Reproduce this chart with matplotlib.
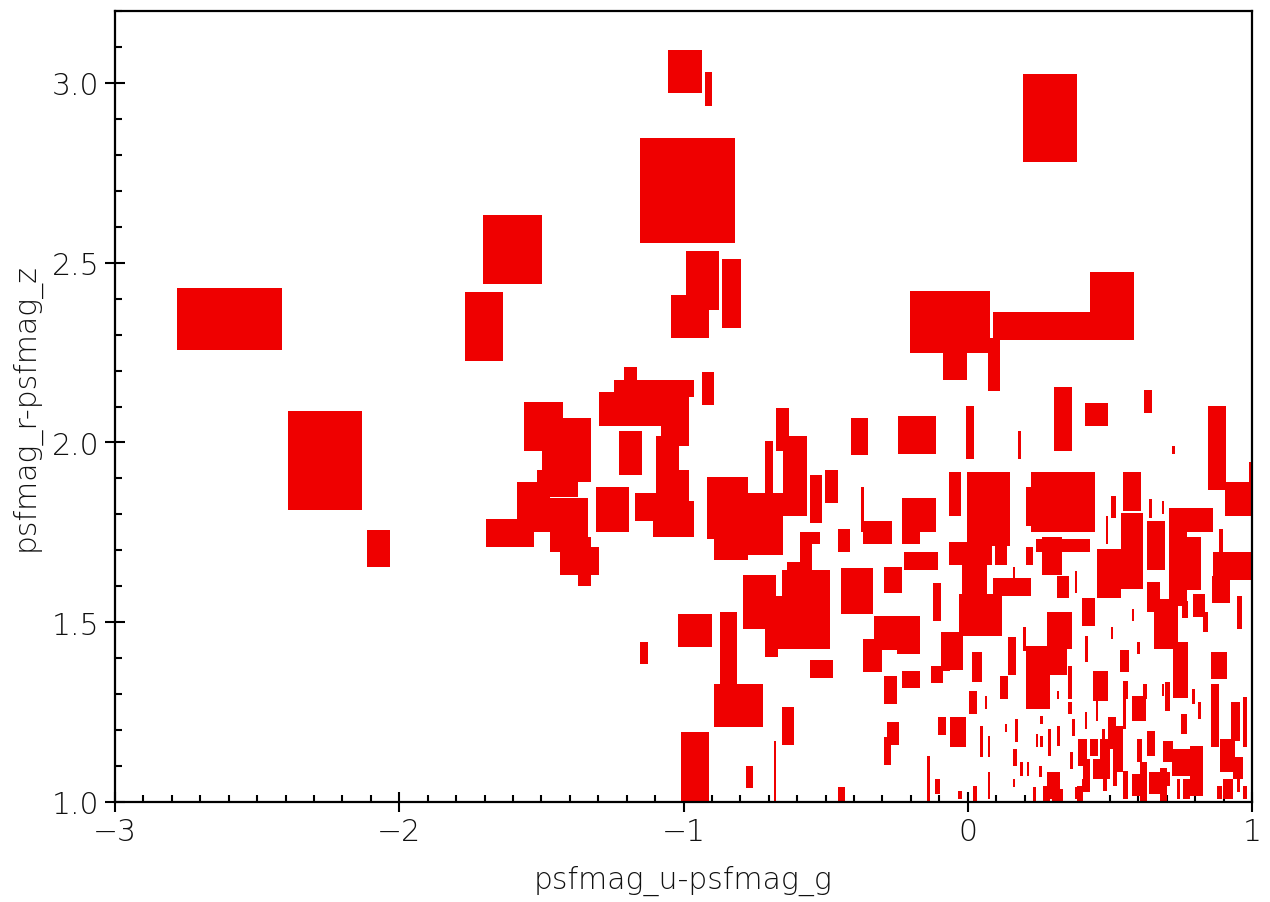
"""
Colour-colour plot with error boxes (psfmag u-g vs r-z)
"""

import numpy as np
import matplotlib.pyplot as plt
from matplotlib.ticker import MultipleLocator, FormatStrFormatter


#%%
# data: centre (x, y) and half-size of the error box (x_err, y_err)

# isolated points, upper half
x_top = [-2.597, -2.261, -2.073, -1.702, -1.602, -0.995, -0.912, -0.986, -0.933,
         -0.831, -0.977, 0.289, -0.062, -0.045, 0.263, 0.507, 0.092]
y_top = [2.344, 1.950, 1.705, 2.323, 2.537, 3.032, 2.983, 2.701, 2.451,
         2.414, 2.350, 2.903, 2.335, 2.298, 2.324, 2.380, 2.217]
xe_top = [0.185, 0.130, 0.040, 0.067, 0.104, 0.060, 0.012, 0.167, 0.058,
          0.033, 0.067, 0.095, 0.141, 0.042, 0.174, 0.077, 0.021]
ye_top = [0.086, 0.138, 0.051, 0.096, 0.096, 0.060, 0.047, 0.146, 0.082,
          0.096, 0.060, 0.122, 0.086, 0.124, 0.039, 0.095, 0.074]

# middle cluster
x_mid = [-1.186, -1.104, -1.172, -1.030, -0.914, -1.493, -1.412, -1.186, -1.056,
         -1.443, -1.528, -1.403, -1.610, -1.366, -1.348, -1.250, -1.113, -1.035,
         -1.014, -0.845, -0.833, -0.720, -0.699, -0.652, -0.608, -0.534, -0.479,
         -0.555, -0.435, -0.569, -0.733, -0.569, -0.680, -0.608]
y_mid = [2.150, 2.150, 2.093, 2.065, 2.150, 2.045, 1.979, 1.971, 1.926,
         1.886, 1.821, 1.771, 1.748, 1.670, 1.669, 1.814, 1.821, 1.787,
         1.830, 1.818, 1.741, 1.773, 1.900, 2.036, 1.907, 1.843, 1.878,
         1.734, 1.727, 1.648, 1.556, 1.535, 1.499, 1.630]
xe_mid = [0.023, 0.141, 0.125, 0.049, 0.021, 0.069, 0.086, 0.040, 0.040,
          0.072, 0.058, 0.067, 0.084, 0.069, 0.023, 0.058, 0.058, 0.072,
          0.033, 0.072, 0.060, 0.070, 0.014, 0.023, 0.042, 0.021, 0.023,
          0.035, 0.021, 0.021, 0.058, 0.084, 0.030, 0.028]
ye_mid = [0.060, 0.024, 0.047, 0.075, 0.046, 0.068, 0.089, 0.061, 0.092,
          0.038, 0.070, 0.075, 0.039, 0.039, 0.068, 0.063, 0.039, 0.050,
          0.093, 0.086, 0.068, 0.086, 0.104, 0.060, 0.111, 0.067, 0.046,
          0.017, 0.032, 0.075, 0.075, 0.110, 0.074, 0.038]

# lower middle
x_low = [-0.960, -0.842, -0.807, -0.960, -0.768, -0.678, -0.632, -0.515, -0.444,
         -0.690, -0.335, -0.288, -0.208, -0.200, -0.272, -0.263, -0.282, -0.108,
         -0.091, -0.077, -0.138, -0.106, -1.139]
y_low = [1.477, 1.428, 1.268, 1.097, 1.070, 1.085, 1.211, 1.370, 1.021,
         1.456, 1.408, 1.455, 1.465, 1.341, 1.312, 1.191, 1.142, 1.355,
         1.211, 1.419, 1.064, 1.043, 1.414]
xe_low = [0.060, 0.030, 0.086, 0.049, 0.012, 0.004, 0.021, 0.040, 0.012,
          0.023, 0.033, 0.042, 0.040, 0.032, 0.023, 0.021, 0.012, 0.021,
          0.014, 0.014, 0.005, 0.009, 0.014]
ye_low = [0.046, 0.100, 0.060, 0.097, 0.031, 0.085, 0.053, 0.025, 0.021,
          0.053, 0.046, 0.032, 0.053, 0.024, 0.039, 0.032, 0.039, 0.024,
          0.025, 0.054, 0.064, 0.021, 0.031]

# right side, y 1.45 - 2.1
x_right = [-0.381, -0.178, 0.008, 0.182, 0.335, 0.453, 0.634, 0.724, 0.877,
           0.954, 0.997, -0.369, -0.317, -0.171, -0.200, -0.045, 0.073, 0.010,
           0.117, 0.231, 0.335, 0.335, 0.296, 0.217, 0.335, 0.381, 0.163,
           0.156, 0.024, 0.045, -0.055, -0.164, -0.263, -0.108, -0.390, -0.249,
           0.335, 0.425, 0.497, 0.578, 0.578, 0.513, 0.490, 0.662, 0.785,
           0.740, 0.794, 0.933, 0.891, 0.891, 0.764, 0.814, 0.956, 0.507,
           0.643, 0.687]
y_right = [2.017, 2.021, 2.028, 1.993, 2.065, 2.078, 2.114, 1.979, 1.985,
           1.843, 1.894, 1.814, 1.750, 1.798, 1.775, 1.857, 1.815, 1.691,
           1.686, 1.822, 1.834, 1.713, 1.684, 1.684, 1.598, 1.612, 1.626,
           1.598, 1.602, 1.520, 1.420, 1.670, 1.618, 1.556, 1.587, 1.471,
           1.477, 1.529, 1.636, 1.698, 1.864, 1.821, 1.757, 1.713, 1.784,
           1.682, 1.663, 1.656, 1.591, 1.704, 1.535, 1.547, 1.527, 1.470,
           1.816, 1.819]
xe_right = [0.030, 0.067, 0.014, 0.005, 0.032, 0.040, 0.014, 0.005, 0.032,
            0.049, 0.007, 0.005, 0.051, 0.060, 0.032, 0.021, 0.076, 0.076,
            0.021, 0.026, 0.113, 0.095, 0.035, 0.012, 0.021, 0.004, 0.004,
            0.067, 0.044, 0.076, 0.039, 0.060, 0.032, 0.014, 0.056, 0.081,
            0.032, 0.023, 0.042, 0.039, 0.032, 0.009, 0.004, 0.032, 0.077,
            0.032, 0.026, 0.070, 0.032, 0.007, 0.011, 0.021, 0.009, 0.004,
            0.004, 0.004]
ye_right = [0.051, 0.053, 0.074, 0.039, 0.089, 0.032, 0.032, 0.011, 0.117,
            0.047, 0.051, 0.063, 0.032, 0.047, 0.057, 0.061, 0.103, 0.032,
            0.026, 0.054, 0.083, 0.018, 0.053, 0.025, 0.031, 0.031, 0.028,
            0.025, 0.057, 0.058, 0.053, 0.025, 0.036, 0.053, 0.064, 0.046,
            0.051, 0.039, 0.068, 0.106, 0.054, 0.031, 0.039, 0.068, 0.033,
            0.136, 0.074, 0.039, 0.038, 0.056, 0.024, 0.032, 0.046, 0.017,
            0.026, 0.018]

# dense corner, bottom right
x_dense = [-0.040, 0.033, 0.156, 0.128, 0.200, 0.247, 0.314, 0.360, 0.418,
           0.467, 0.455, 0.551, 0.581, 0.601, 0.602, 0.624, 0.697, 0.653,
           0.748, 0.836, 0.884, 0.870, 0.975, 0.942, 0.761, 0.704, 0.750,
           0.507, 0.478, 0.444, 0.471, 0.555, 0.604, 0.645, 0.662, 0.805,
           0.914, 0.951, 0.916, 0.404, 0.407, 0.387, 0.302, 0.288, 0.319,
           0.244, 0.259, 0.372, 0.416, 0.172, 0.048, 0.075, -0.034, 0.166,
           0.189, 0.212, 0.163, 0.075, 0.027, -0.027, 0.235, 0.277, 0.316,
           0.395, 0.418, 0.483, 0.518, 0.604, 0.699, 0.741, 0.770, 0.886,
           0.953, 0.975, 0.555, 0.687, 0.794, 0.815, 0.018,
           0.551, 0.703, 0.483, 0.529, 0.618, 0.689, 0.318, 0.064, 0.135,
           0.259, 0.256, 0.360, 0.365]
y_dense = [1.420, 1.376, 1.406, 1.318, 1.453, 1.346, 1.441, 1.332, 1.426,
           1.323, 1.256, 1.392, 1.520, 1.428, 1.260, 1.307, 1.495, 1.570,
           1.367, 1.501, 1.380, 1.241, 1.223, 1.224, 1.217, 1.140, 1.110,
           1.192, 1.175, 1.152, 1.092, 1.047, 1.047, 1.163, 1.053, 1.086,
           1.129, 1.095, 1.036, 1.138, 1.046, 1.025, 1.046, 1.166, 1.184,
           1.171, 1.168, 1.207, 1.227, 1.199, 1.168, 1.154, 1.195, 1.124,
           1.092, 1.092, 1.053, 1.046, 1.022, 1.019, 1.022, 1.024, 1.019,
           1.024, 1.074, 1.065, 1.082, 1.143, 1.064, 1.036, 1.036, 1.026,
           1.056, 1.026, 1.312, 1.312, 1.293, 1.255, 1.277,
           1.255, 1.293, 1.134, 1.147, 1.057, 1.047, 1.298, 1.277, 1.206,
           1.227, 1.085, 1.261, 1.115]
xe_dense = [0.023, 0.018, 0.014, 0.014, 0.005, 0.042, 0.035, 0.007, 0.005,
            0.026, 0.004, 0.016, 0.004, 0.005, 0.025, 0.007, 0.042, 0.023,
            0.026, 0.009, 0.028, 0.014, 0.007, 0.016, 0.011, 0.018, 0.032,
            0.014, 0.005, 0.014, 0.030, 0.009, 0.026, 0.014, 0.025, 0.023,
            0.026, 0.018, 0.018, 0.016, 0.005, 0.009, 0.023, 0.005, 0.005,
            0.004, 0.004, 0.005, 0.004, 0.005, 0.005, 0.004, 0.028, 0.007,
            0.005, 0.004, 0.004, 0.004, 0.007, 0.007, 0.005, 0.012, 0.019,
            0.011, 0.012, 0.007, 0.007, 0.009, 0.012, 0.005, 0.012, 0.009,
            0.005, 0.007, 0.009, 0.004, 0.005, 0.005, 0.014,
            0.005, 0.009, 0.018, 0.018, 0.012, 0.012, 0.004, 0.004, 0.004,
            0.004, 0.004, 0.007, 0.005]
ye_dense = [0.053, 0.042, 0.053, 0.032, 0.033, 0.088, 0.088, 0.046, 0.036,
            0.042, 0.031, 0.031, 0.017, 0.017, 0.035, 0.021, 0.070, 0.042,
            0.078, 0.028, 0.038, 0.088, 0.070, 0.054, 0.028, 0.029, 0.038,
            0.045, 0.028, 0.024, 0.028, 0.039, 0.031, 0.035, 0.031, 0.070,
            0.046, 0.031, 0.028, 0.038, 0.018, 0.017, 0.038, 0.038, 0.028,
            0.018, 0.015, 0.024, 0.024, 0.032, 0.043, 0.029, 0.042, 0.024,
            0.019, 0.019, 0.011, 0.038, 0.022, 0.011, 0.020, 0.021, 0.017,
            0.021, 0.046, 0.035, 0.038, 0.032, 0.019, 0.028, 0.028, 0.018,
            0.028, 0.018, 0.025, 0.017, 0.021, 0.024, 0.032,
            0.052, 0.041, 0.042, 0.064, 0.054, 0.047, 0.011, 0.018, 0.011,
            0.011, 0.016, 0.017, 0.024]

x = np.array(x_top + x_mid + x_low + x_right + x_dense)
y = np.array(y_top + y_mid + y_low + y_right + y_dense)
x_err = np.array(xe_top + xe_mid + xe_low + xe_right + xe_dense)
y_err = np.array(ye_top + ye_mid + ye_low + ye_right + ye_dense)


#%%
plt.rcParams['font.family'] = ['DejaVu Sans']
plt.rcParams['font.weight'] = 'light'

fig = plt.figure(figsize=(12.7, 9.03), dpi=100)
ax = fig.add_axes([115/1270, 100/903, 1137/1270, 791/903])

# error boxes as filled rectangles
ax.bar(x, 2*y_err, width=2*x_err, bottom=y - y_err, align="center",
       color="#ef0000", linewidth=0, zorder=2)

ax.set_xlim(-3, 1)
ax.set_ylim(1.0, 3.2)

ax.set_xticks([-3, -2, -1, 0, 1])
ax.set_yticks([1.0, 1.5, 2.0, 2.5, 3.0])
ax.yaxis.set_major_formatter(FormatStrFormatter("%.1f"))
ax.xaxis.set_minor_locator(MultipleLocator(0.1))
ax.yaxis.set_minor_locator(MultipleLocator(0.1))

ax.tick_params(which="major", direction="inout", length=14, width=1.5,
               labelsize=21.5, labelcolor="#111111", pad=4)
ax.tick_params(which="minor", direction="in", length=5, width=1.5)

for side in ["left", "bottom", "top", "right"]:
    ax.spines[side].set_linewidth(1.6)
    ax.spines[side].set_zorder(3)

ax.set_xlabel("psfmag_u-psfmag_g", fontsize=21.5, fontweight="light",
              color="#111111", labelpad=13)
ax.set_ylabel("psfmag_r-psfmag_z", fontsize=21.5, fontweight="light",
              color="#111111", labelpad=8)

plt.savefig("out.png", dpi=100)
